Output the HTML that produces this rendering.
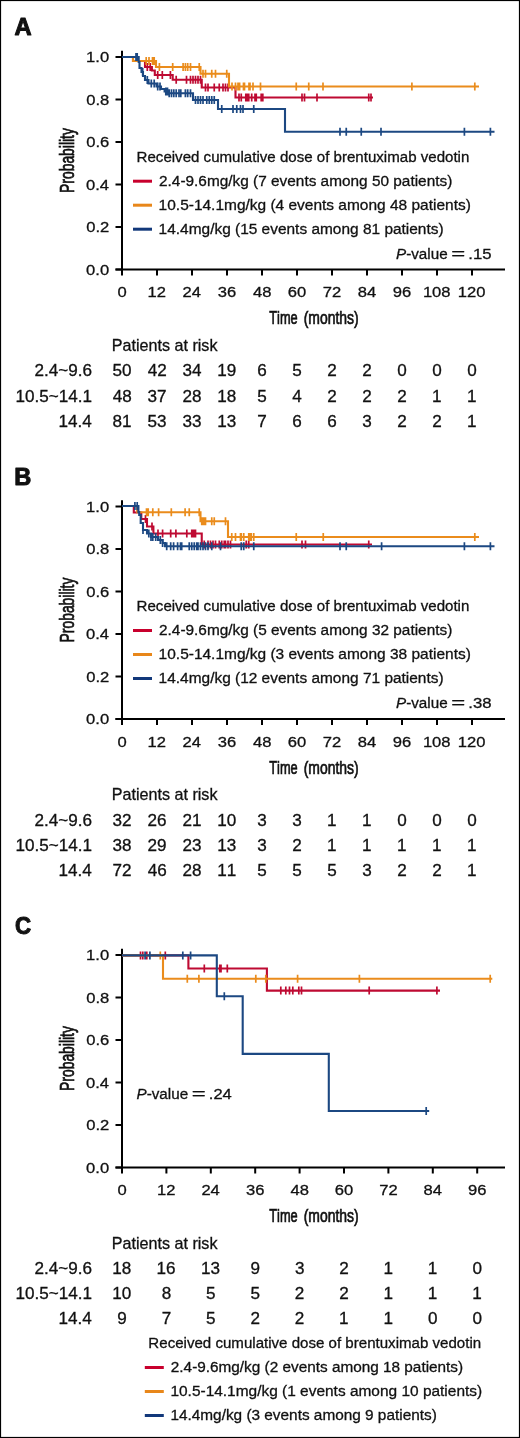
<!DOCTYPE html>
<html><head><meta charset="utf-8"><title>KM curves</title>
<style>html,body{margin:0;padding:0;background:#fff;overflow:hidden;}svg{display:block;}#w{will-change:transform;width:520px;height:1438px;background:#fff;}</style>
</head><body><div id="w">
<svg width="520" height="1438" viewBox="0 0 520 1438">
<style>
text{font-family:"Liberation Sans", sans-serif;fill:#111;}
.t{stroke:#111;stroke-width:0.3px;}
.c{stroke:#111;stroke-width:0.7px;}
.b{font-weight:bold;stroke:#111;stroke-width:1px;stroke-linejoin:round;}
text{font-kerning:none;}
</style>
<rect x="0" y="0" width="520" height="1438" fill="#fff"/>
<rect x="0.5" y="0.5" width="519" height="1437" fill="none" stroke="#000" stroke-width="1.2"/>
<text class="b" font-size="24" transform="translate(14.51 34.60) scale(0.9875 1)"><tspan font-weight="bold">A</tspan></text>
<text class="b" font-size="24" transform="translate(14.32 484.60) scale(0.9838 1)"><tspan font-weight="bold">B</tspan></text>
<text class="b" font-size="24" transform="translate(14.98 933.70) scale(0.9304 1)"><tspan font-weight="bold">C</tspan></text>
<path d="M122 50.8V270.5" stroke="#000" stroke-width="2" fill="none"/>
<path d="M115.5 269.5H505" stroke="#000" stroke-width="2" fill="none"/>
<path d="M115.5 57.0H122M115.5 99.5H122M115.5 142.0H122M115.5 184.5H122M115.5 227.0H122M115.5 269.5H122" stroke="#000" stroke-width="2" fill="none"/>
<path d="M122 269.5V275.5M157 269.5V275.5M192 269.5V275.5M227 269.5V275.5M262 269.5V275.5M297 269.5V275.5M332 269.5V275.5M367 269.5V275.5M402 269.5V275.5M437 269.5V275.5M472 269.5V275.5" stroke="#000" stroke-width="2" fill="none"/>
<text class="t" font-size="15.5" transform="translate(86.09 62.40) scale(1.0700 1)">1.0</text>
<text class="t" font-size="15.5" transform="translate(86.17 104.90) scale(1.0700 1)">0.8</text>
<text class="t" font-size="15.5" transform="translate(86.17 147.40) scale(1.0700 1)">0.6</text>
<text class="t" font-size="15.5" transform="translate(85.93 189.90) scale(1.0700 1)">0.4</text>
<text class="t" font-size="15.5" transform="translate(86.28 232.40) scale(1.0700 1)">0.2</text>
<text class="t" font-size="15.5" transform="translate(86.09 274.90) scale(1.0700 1)">0.0</text>
<text class="t" font-size="15.5" transform="translate(117.39 297.00) scale(1.0700 1)">0</text>
<text class="t" font-size="15.5" transform="translate(147.56 297.00) scale(1.0700 1)">12</text>
<text class="t" font-size="15.5" transform="translate(182.60 297.00) scale(1.0700 1)">24</text>
<text class="t" font-size="15.5" transform="translate(217.82 297.00) scale(1.0700 1)">36</text>
<text class="t" font-size="15.5" transform="translate(252.95 297.00) scale(1.0700 1)">48</text>
<text class="t" font-size="15.5" transform="translate(287.68 297.00) scale(1.0700 1)">60</text>
<text class="t" font-size="15.5" transform="translate(322.77 297.00) scale(1.0700 1)">72</text>
<text class="t" font-size="15.5" transform="translate(357.66 297.00) scale(1.0700 1)">84</text>
<text class="t" font-size="15.5" transform="translate(392.75 297.00) scale(1.0700 1)">96</text>
<text class="t" font-size="15.5" transform="translate(422.89 297.00) scale(1.0700 1)">108</text>
<text class="t" font-size="15.5" transform="translate(457.86 297.00) scale(1.0700 1)">120</text>
<text class="c" font-size="18" transform="translate(269.21 324.30) scale(0.7140 1)">Time</text>
<text class="c" font-size="18" transform="translate(303.64 324.30) scale(0.7749 1)">(months)</text>
<text class="c" font-size="20" transform="translate(73.6 192.94) rotate(-90) scale(0.6947 1)">Probability</text>
<path d="M122 500.3V720.0" stroke="#000" stroke-width="2" fill="none"/>
<path d="M115.5 719.0H505" stroke="#000" stroke-width="2" fill="none"/>
<path d="M115.5 506.5H122M115.5 549.0H122M115.5 591.5H122M115.5 634.0H122M115.5 676.5H122M115.5 719.0H122" stroke="#000" stroke-width="2" fill="none"/>
<path d="M122 719.0V725.0M157 719.0V725.0M192 719.0V725.0M227 719.0V725.0M262 719.0V725.0M297 719.0V725.0M332 719.0V725.0M367 719.0V725.0M402 719.0V725.0M437 719.0V725.0M472 719.0V725.0" stroke="#000" stroke-width="2" fill="none"/>
<text class="t" font-size="15.5" transform="translate(86.09 511.90) scale(1.0700 1)">1.0</text>
<text class="t" font-size="15.5" transform="translate(86.17 554.40) scale(1.0700 1)">0.8</text>
<text class="t" font-size="15.5" transform="translate(86.17 596.90) scale(1.0700 1)">0.6</text>
<text class="t" font-size="15.5" transform="translate(85.93 639.40) scale(1.0700 1)">0.4</text>
<text class="t" font-size="15.5" transform="translate(86.28 681.90) scale(1.0700 1)">0.2</text>
<text class="t" font-size="15.5" transform="translate(86.09 724.40) scale(1.0700 1)">0.0</text>
<text class="t" font-size="15.5" transform="translate(117.39 746.50) scale(1.0700 1)">0</text>
<text class="t" font-size="15.5" transform="translate(147.56 746.50) scale(1.0700 1)">12</text>
<text class="t" font-size="15.5" transform="translate(182.60 746.50) scale(1.0700 1)">24</text>
<text class="t" font-size="15.5" transform="translate(217.82 746.50) scale(1.0700 1)">36</text>
<text class="t" font-size="15.5" transform="translate(252.95 746.50) scale(1.0700 1)">48</text>
<text class="t" font-size="15.5" transform="translate(287.68 746.50) scale(1.0700 1)">60</text>
<text class="t" font-size="15.5" transform="translate(322.77 746.50) scale(1.0700 1)">72</text>
<text class="t" font-size="15.5" transform="translate(357.66 746.50) scale(1.0700 1)">84</text>
<text class="t" font-size="15.5" transform="translate(392.75 746.50) scale(1.0700 1)">96</text>
<text class="t" font-size="15.5" transform="translate(422.89 746.50) scale(1.0700 1)">108</text>
<text class="t" font-size="15.5" transform="translate(457.86 746.50) scale(1.0700 1)">120</text>
<text class="c" font-size="18" transform="translate(269.21 773.80) scale(0.7140 1)">Time</text>
<text class="c" font-size="18" transform="translate(303.64 773.80) scale(0.7749 1)">(months)</text>
<text class="c" font-size="20" transform="translate(73.6 642.44) rotate(-90) scale(0.6947 1)">Probability</text>
<path d="M122 948.8V1168.5" stroke="#000" stroke-width="2" fill="none"/>
<path d="M115.5 1167.5H505" stroke="#000" stroke-width="2" fill="none"/>
<path d="M115.5 955.0H122M115.5 997.5H122M115.5 1040.0H122M115.5 1082.5H122M115.5 1125.0H122M115.5 1167.5H122" stroke="#000" stroke-width="2" fill="none"/>
<path d="M122.0 1167.5V1173.5M166.4 1167.5V1173.5M210.8 1167.5V1173.5M255.2 1167.5V1173.5M299.6 1167.5V1173.5M344.0 1167.5V1173.5M388.4 1167.5V1173.5M432.8 1167.5V1173.5M477.2 1167.5V1173.5" stroke="#000" stroke-width="2" fill="none"/>
<text class="t" font-size="15.5" transform="translate(86.09 960.40) scale(1.0700 1)">1.0</text>
<text class="t" font-size="15.5" transform="translate(86.17 1002.90) scale(1.0700 1)">0.8</text>
<text class="t" font-size="15.5" transform="translate(86.17 1045.40) scale(1.0700 1)">0.6</text>
<text class="t" font-size="15.5" transform="translate(85.93 1087.90) scale(1.0700 1)">0.4</text>
<text class="t" font-size="15.5" transform="translate(86.28 1130.40) scale(1.0700 1)">0.2</text>
<text class="t" font-size="15.5" transform="translate(86.09 1172.90) scale(1.0700 1)">0.0</text>
<text class="t" font-size="15.5" transform="translate(117.39 1195.00) scale(1.0700 1)">0</text>
<text class="t" font-size="15.5" transform="translate(156.96 1195.00) scale(1.0700 1)">12</text>
<text class="t" font-size="15.5" transform="translate(201.40 1195.00) scale(1.0700 1)">24</text>
<text class="t" font-size="15.5" transform="translate(246.02 1195.00) scale(1.0700 1)">36</text>
<text class="t" font-size="15.5" transform="translate(290.55 1195.00) scale(1.0700 1)">48</text>
<text class="t" font-size="15.5" transform="translate(334.68 1195.00) scale(1.0700 1)">60</text>
<text class="t" font-size="15.5" transform="translate(379.17 1195.00) scale(1.0700 1)">72</text>
<text class="t" font-size="15.5" transform="translate(423.46 1195.00) scale(1.0700 1)">84</text>
<text class="t" font-size="15.5" transform="translate(467.95 1195.00) scale(1.0700 1)">96</text>
<text class="c" font-size="18" transform="translate(269.21 1222.30) scale(0.7140 1)">Time</text>
<text class="c" font-size="18" transform="translate(303.64 1222.30) scale(0.7749 1)">(months)</text>
<text class="c" font-size="20" transform="translate(73.6 1090.94) rotate(-90) scale(0.6947 1)">Probability</text>
<path d="M122 57H133V61H145V67H151.9V70.5H154.8V75H172.7V79.7H201.75V87.5H235.5V97.5H373" fill="none" stroke="#BE0A32" stroke-width="2.1" stroke-linejoin="miter" stroke-linecap="butt"/>
<path d="M147.3 63V71M150.2 63V71M157.7 71V79M162.3 71V79M170.4 71V79M176.2 75.7V83.7M186.5 75.7V83.7M190.5 75.7V83.7M193 75.7V83.7M195.5 75.7V83.7M198 75.7V83.7M200.5 75.7V83.7M205.5 83.5V91.5M208 83.5V91.5M214.25 83.5V91.5M219.25 83.5V91.5M223 83.5V91.5M225.5 83.5V91.5M228 83.5V91.5M239 93.5V101.5M241.25 93.5V101.5M245.8 93.5V101.5M247.1 93.5V101.5M248.75 93.5V101.5M251.7 93.5V101.5M255 93.5V101.5M256.25 93.5V101.5M261.2 93.5V101.5M262.8 93.5V101.5M302 93.5V101.5M304.5 93.5V101.5M317 93.5V101.5M368.75 93.5V101.5M371 93.5V101.5" stroke="#BE0A32" stroke-width="1.7" fill="none"/>
<path d="M122 57H133V61H156V67H200.5V73.75H229V86.5H479" fill="none" stroke="#EA8C1C" stroke-width="2.1" stroke-linejoin="miter" stroke-linecap="butt"/>
<path d="M146.2 57V65M149 57V65M152.5 57V65M154.2 57V65M159.4 63V71M172.7 63V71M183.1 63V71M185.4 63V71M187.7 63V71M190.5 63V71M199.25 63V71M203 69.75V77.75M205.5 69.75V77.75M211.75 69.75V77.75M215.5 69.75V77.75M226.75 69.75V77.75M232 82.5V90.5M235.5 82.5V90.5M238 82.5V90.5M239.6 82.5V90.5M243.5 82.5V90.5M244.5 82.5V90.5M249 82.5V90.5M250 82.5V90.5M253 82.5V90.5M260.5 82.5V90.5M296.25 82.5V90.5M308.75 82.5V90.5M323 82.5V90.5M411.9 82.5V90.5M474.8 82.5V90.5" stroke="#EA8C1C" stroke-width="1.7" fill="none"/>
<path d="M122 57H138.7V62H139.5V68H141.5V72H143V76H145V80H148.5V83.5H156.5V86.5H161V89H164.6V91.5H168V93.3H193V100H218V109H285V131.75H494.5" fill="none" stroke="#1C4882" stroke-width="2.1" stroke-linejoin="miter" stroke-linecap="butt"/>
<path d="M136 53V61M137.2 53V61M142.7 68V76M147.3 76V84M151.3 79.5V87.5M154.2 79.5V87.5M157.7 82.5V90.5M160 82.5V90.5M165.8 87.5V95.5M167.5 87.5V95.5M169.2 89.3V97.3M171.5 89.3V97.3M173.8 89.3V97.3M176.2 89.3V97.3M179 89.3V97.3M180.8 89.3V97.3M185.4 89.3V97.3M187.7 89.3V97.3M190.5 89.3V97.3M195.5 96V104M198 96V104M200.5 96V104M203 96V104M206.75 96V104M209.25 96V104M211.75 96V104M214.25 96V104M221.75 105V113M233 105V113M236.75 105V113M240.5 105V113M243 105V113M253.75 105V113M340 127.75V135.75M346.25 127.75V135.75M361.25 127.75V135.75M381 127.75V135.75M464.4 127.75V135.75M490.4 127.75V135.75" stroke="#1C4882" stroke-width="1.7" fill="none"/>
<path d="M122 506H133.8V512.5H141.3V519H147V526.5H153.4V533.5H201.75V544.5H372" fill="none" stroke="#BE0A32" stroke-width="2.1" stroke-linejoin="miter" stroke-linecap="butt"/>
<path d="M145.5 515V523M152 522.5V530.5M158 529.5V537.5M162.6 529.5V537.5M170.7 529.5V537.5M175.9 529.5V537.5M186.8 529.5V537.5M191.75 529.5V537.5M193 529.5V537.5M194.25 529.5V537.5M195.5 529.5V537.5M204.25 540.5V548.5M208 540.5V548.5M210.5 540.5V548.5M213 540.5V548.5M215.5 540.5V548.5M219.25 540.5V548.5M221.75 540.5V548.5M224.25 540.5V548.5M225.5 540.5V548.5M228 540.5V548.5M230.5 540.5V548.5M246.25 540.5V548.5M248.75 540.5V548.5M302 540.5V548.5M305.5 540.5V548.5M368.75 540.5V548.5" stroke="#BE0A32" stroke-width="1.7" fill="none"/>
<path d="M122 506H137.2V512.3H200.5V521.25H228V537H479" fill="none" stroke="#EA8C1C" stroke-width="2.1" stroke-linejoin="miter" stroke-linecap="butt"/>
<path d="M146.5 508.29999999999995V516.3M148.2 508.29999999999995V516.3M152.8 508.29999999999995V516.3M158.6 508.29999999999995V516.3M171.3 508.29999999999995V516.3M185.1 508.29999999999995V516.3M189.25 508.29999999999995V516.3M199.25 508.29999999999995V516.3M201.75 517.25V525.25M203 517.25V525.25M204.25 517.25V525.25M205.5 517.25V525.25M211.75 517.25V525.25M214.25 517.25V525.25M225.5 517.25V525.25M231.75 533V541M235.5 533V541M240.5 533V541M241.25 533V541M243.75 533V541M248.75 533V541M250 533V541M251.25 533V541M253.75 533V541M296.25 533V541M323.25 533V541M474.8 533V541" stroke="#EA8C1C" stroke-width="1.7" fill="none"/>
<path d="M122 506H138.4V512H139.2V515H140.7V523H143V530H147V533.5H151V537H158V540H162.6V543H165V546.3H494.5" fill="none" stroke="#1C4882" stroke-width="2.1" stroke-linejoin="miter" stroke-linecap="butt"/>
<path d="M134.9 502V510M137.2 502V510M143 526V534M148.8 529.5V537.5M151 533V541M152.8 533V541M155.7 533V541M160.3 536V544M162.6 539V547M166.7 542.3V550.3M170.7 542.3V550.3M173.6 542.3V550.3M177.6 542.3V550.3M180.5 542.3V550.3M181.7 542.3V550.3M189.25 542.3V550.3M191.75 542.3V550.3M194.25 542.3V550.3M196.75 542.3V550.3M198 542.3V550.3M200.5 542.3V550.3M203 542.3V550.3M205.5 542.3V550.3M208 542.3V550.3M211.75 542.3V550.3M220.5 542.3V550.3M241.25 542.3V550.3M243.75 542.3V550.3M253.75 542.3V550.3M340 542.3V550.3M346.25 542.3V550.3M381.6 542.3V550.3M464.4 542.3V550.3M490.4 542.3V550.3" stroke="#1C4882" stroke-width="1.7" fill="none"/>
<path d="M122 955.4H188.4V968.5H266.9V990.6H440" fill="none" stroke="#BE0A32" stroke-width="2.1" stroke-linejoin="miter" stroke-linecap="butt"/>
<path d="M140.5 951.4V959.4M142.8 951.4V959.4M146.8 951.4V959.4M165.3 951.4V959.4M204.3 964.5V972.5M219.8 964.5V972.5M221 964.5V972.5M227.3 964.5V972.5M280.8 986.6V994.6M285.8 986.6V994.6M289.5 986.6V994.6M292.8 986.6V994.6M298.8 986.6V994.6M301.5 986.6V994.6M369.2 986.6V994.6M436.9 986.6V994.6" stroke="#BE0A32" stroke-width="1.7" fill="none"/>
<path d="M122 955.4H163V978.7H492.3" fill="none" stroke="#EA8C1C" stroke-width="2.1" stroke-linejoin="miter" stroke-linecap="butt"/>
<path d="M160.3 951.4V959.4M187.3 974.7V982.7M198.9 974.7V982.7M255.8 974.7V982.7M265.8 974.7V982.7M297.6 974.7V982.7M359.4 974.7V982.7M490.2 974.7V982.7" stroke="#EA8C1C" stroke-width="1.7" fill="none"/>
<path d="M122 955.4H216.8V996.2H242.7V1053.9H328.8V1111H429.2" fill="none" stroke="#1C4882" stroke-width="2.1" stroke-linejoin="miter" stroke-linecap="butt"/>
<path d="M145.1 951.4V959.4M149.9 951.4V959.4M182.8 951.4V959.4M190.6 951.4V959.4M224.3 992.2V1000.2M426.2 1107V1115" stroke="#1C4882" stroke-width="1.7" fill="none"/>
<text class="t" font-size="16" transform="translate(111.78 351.20) scale(1.0083 1)">Patients at risk</text>
<text class="t" font-size="16" transform="translate(34.46 376.30) scale(1.0700 1)">2.4~9.6</text>
<text class="t" font-size="16" transform="translate(112.47 376.30) scale(1.0700 1)">50</text>
<text class="t" font-size="16" transform="translate(147.71 376.30) scale(1.0700 1)">42</text>
<text class="t" font-size="16" transform="translate(182.40 376.30) scale(1.0700 1)">34</text>
<text class="t" font-size="16" transform="translate(217.23 376.30) scale(1.0700 1)">19</text>
<text class="t" font-size="16" transform="translate(257.18 376.30) scale(1.0700 1)">6</text>
<text class="t" font-size="16" transform="translate(292.26 376.30) scale(1.0700 1)">5</text>
<text class="t" font-size="16" transform="translate(327.24 376.30) scale(1.0700 1)">2</text>
<text class="t" font-size="16" transform="translate(362.24 376.30) scale(1.0700 1)">2</text>
<text class="t" font-size="16" transform="translate(397.24 376.30) scale(1.0700 1)">0</text>
<text class="t" font-size="16" transform="translate(432.24 376.30) scale(1.0700 1)">0</text>
<text class="t" font-size="16" transform="translate(467.24 376.30) scale(1.0700 1)">0</text>
<text class="t" font-size="16" transform="translate(15.50 401.50) scale(1.0700 1)">10.5~14.1</text>
<text class="t" font-size="16" transform="translate(112.65 401.50) scale(1.0700 1)">48</text>
<text class="t" font-size="16" transform="translate(147.58 401.50) scale(1.0700 1)">37</text>
<text class="t" font-size="16" transform="translate(182.42 401.50) scale(1.0700 1)">28</text>
<text class="t" font-size="16" transform="translate(217.20 401.50) scale(1.0700 1)">18</text>
<text class="t" font-size="16" transform="translate(257.26 401.50) scale(1.0700 1)">5</text>
<text class="t" font-size="16" transform="translate(292.29 401.50) scale(1.0700 1)">4</text>
<text class="t" font-size="16" transform="translate(327.24 401.50) scale(1.0700 1)">2</text>
<text class="t" font-size="16" transform="translate(362.24 401.50) scale(1.0700 1)">2</text>
<text class="t" font-size="16" transform="translate(397.24 401.50) scale(1.0700 1)">2</text>
<text class="t" font-size="16" transform="translate(432.01 401.50) scale(1.0700 1)">1</text>
<text class="t" font-size="16" transform="translate(467.01 401.50) scale(1.0700 1)">1</text>
<text class="t" font-size="16" transform="translate(58.48 426.50) scale(1.0700 1)">14.4</text>
<text class="t" font-size="16" transform="translate(112.52 426.50) scale(1.0700 1)">81</text>
<text class="t" font-size="16" transform="translate(147.51 426.50) scale(1.0700 1)">53</text>
<text class="t" font-size="16" transform="translate(182.53 426.50) scale(1.0700 1)">33</text>
<text class="t" font-size="16" transform="translate(217.20 426.50) scale(1.0700 1)">13</text>
<text class="t" font-size="16" transform="translate(257.23 426.50) scale(1.0700 1)">7</text>
<text class="t" font-size="16" transform="translate(292.18 426.50) scale(1.0700 1)">6</text>
<text class="t" font-size="16" transform="translate(327.18 426.50) scale(1.0700 1)">6</text>
<text class="t" font-size="16" transform="translate(362.29 426.50) scale(1.0700 1)">3</text>
<text class="t" font-size="16" transform="translate(397.24 426.50) scale(1.0700 1)">2</text>
<text class="t" font-size="16" transform="translate(432.24 426.50) scale(1.0700 1)">2</text>
<text class="t" font-size="16" transform="translate(467.01 426.50) scale(1.0700 1)">1</text>
<text class="t" font-size="16" transform="translate(111.78 800.40) scale(1.0083 1)">Patients at risk</text>
<text class="t" font-size="16" transform="translate(34.46 825.50) scale(1.0700 1)">2.4~9.6</text>
<text class="t" font-size="16" transform="translate(112.58 825.50) scale(1.0700 1)">32</text>
<text class="t" font-size="16" transform="translate(147.42 825.50) scale(1.0700 1)">26</text>
<text class="t" font-size="16" transform="translate(182.47 825.50) scale(1.0700 1)">21</text>
<text class="t" font-size="16" transform="translate(217.16 825.50) scale(1.0700 1)">10</text>
<text class="t" font-size="16" transform="translate(257.29 825.50) scale(1.0700 1)">3</text>
<text class="t" font-size="16" transform="translate(292.29 825.50) scale(1.0700 1)">3</text>
<text class="t" font-size="16" transform="translate(327.01 825.50) scale(1.0700 1)">1</text>
<text class="t" font-size="16" transform="translate(362.01 825.50) scale(1.0700 1)">1</text>
<text class="t" font-size="16" transform="translate(397.24 825.50) scale(1.0700 1)">0</text>
<text class="t" font-size="16" transform="translate(432.24 825.50) scale(1.0700 1)">0</text>
<text class="t" font-size="16" transform="translate(467.24 825.50) scale(1.0700 1)">0</text>
<text class="t" font-size="16" transform="translate(15.50 850.70) scale(1.0700 1)">10.5~14.1</text>
<text class="t" font-size="16" transform="translate(112.52 850.70) scale(1.0700 1)">38</text>
<text class="t" font-size="16" transform="translate(147.45 850.70) scale(1.0700 1)">29</text>
<text class="t" font-size="16" transform="translate(182.42 850.70) scale(1.0700 1)">23</text>
<text class="t" font-size="16" transform="translate(217.20 850.70) scale(1.0700 1)">13</text>
<text class="t" font-size="16" transform="translate(257.29 850.70) scale(1.0700 1)">3</text>
<text class="t" font-size="16" transform="translate(292.24 850.70) scale(1.0700 1)">2</text>
<text class="t" font-size="16" transform="translate(327.01 850.70) scale(1.0700 1)">1</text>
<text class="t" font-size="16" transform="translate(362.01 850.70) scale(1.0700 1)">1</text>
<text class="t" font-size="16" transform="translate(397.01 850.70) scale(1.0700 1)">1</text>
<text class="t" font-size="16" transform="translate(432.01 850.70) scale(1.0700 1)">1</text>
<text class="t" font-size="16" transform="translate(467.01 850.70) scale(1.0700 1)">1</text>
<text class="t" font-size="16" transform="translate(58.48 875.70) scale(1.0700 1)">14.4</text>
<text class="t" font-size="16" transform="translate(112.47 875.70) scale(1.0700 1)">72</text>
<text class="t" font-size="16" transform="translate(147.66 875.70) scale(1.0700 1)">46</text>
<text class="t" font-size="16" transform="translate(182.42 875.70) scale(1.0700 1)">28</text>
<text class="t" font-size="16" transform="translate(217.24 875.70) scale(1.0700 1)">11</text>
<text class="t" font-size="16" transform="translate(257.26 875.70) scale(1.0700 1)">5</text>
<text class="t" font-size="16" transform="translate(292.26 875.70) scale(1.0700 1)">5</text>
<text class="t" font-size="16" transform="translate(327.26 875.70) scale(1.0700 1)">5</text>
<text class="t" font-size="16" transform="translate(362.29 875.70) scale(1.0700 1)">3</text>
<text class="t" font-size="16" transform="translate(397.24 875.70) scale(1.0700 1)">2</text>
<text class="t" font-size="16" transform="translate(432.24 875.70) scale(1.0700 1)">2</text>
<text class="t" font-size="16" transform="translate(467.01 875.70) scale(1.0700 1)">1</text>
<text class="t" font-size="16" transform="translate(111.78 1248.50) scale(1.0083 1)">Patients at risk</text>
<text class="t" font-size="16" transform="translate(34.46 1273.60) scale(1.0700 1)">2.4~9.6</text>
<text class="t" font-size="16" transform="translate(112.20 1273.60) scale(1.0700 1)">18</text>
<text class="t" font-size="16" transform="translate(156.60 1273.60) scale(1.0700 1)">16</text>
<text class="t" font-size="16" transform="translate(201.00 1273.60) scale(1.0700 1)">13</text>
<text class="t" font-size="16" transform="translate(250.44 1273.60) scale(1.0700 1)">9</text>
<text class="t" font-size="16" transform="translate(294.89 1273.60) scale(1.0700 1)">3</text>
<text class="t" font-size="16" transform="translate(339.24 1273.60) scale(1.0700 1)">2</text>
<text class="t" font-size="16" transform="translate(383.41 1273.60) scale(1.0700 1)">1</text>
<text class="t" font-size="16" transform="translate(427.81 1273.60) scale(1.0700 1)">1</text>
<text class="t" font-size="16" transform="translate(472.44 1273.60) scale(1.0700 1)">0</text>
<text class="t" font-size="16" transform="translate(15.50 1298.80) scale(1.0700 1)">10.5~14.1</text>
<text class="t" font-size="16" transform="translate(112.16 1298.80) scale(1.0700 1)">10</text>
<text class="t" font-size="16" transform="translate(161.64 1298.80) scale(1.0700 1)">8</text>
<text class="t" font-size="16" transform="translate(206.06 1298.80) scale(1.0700 1)">5</text>
<text class="t" font-size="16" transform="translate(250.46 1298.80) scale(1.0700 1)">5</text>
<text class="t" font-size="16" transform="translate(294.84 1298.80) scale(1.0700 1)">2</text>
<text class="t" font-size="16" transform="translate(339.24 1298.80) scale(1.0700 1)">2</text>
<text class="t" font-size="16" transform="translate(383.41 1298.80) scale(1.0700 1)">1</text>
<text class="t" font-size="16" transform="translate(427.81 1298.80) scale(1.0700 1)">1</text>
<text class="t" font-size="16" transform="translate(472.21 1298.80) scale(1.0700 1)">1</text>
<text class="t" font-size="16" transform="translate(58.48 1323.80) scale(1.0700 1)">14.4</text>
<text class="t" font-size="16" transform="translate(117.24 1323.80) scale(1.0700 1)">9</text>
<text class="t" font-size="16" transform="translate(161.63 1323.80) scale(1.0700 1)">7</text>
<text class="t" font-size="16" transform="translate(206.06 1323.80) scale(1.0700 1)">5</text>
<text class="t" font-size="16" transform="translate(250.44 1323.80) scale(1.0700 1)">2</text>
<text class="t" font-size="16" transform="translate(294.84 1323.80) scale(1.0700 1)">2</text>
<text class="t" font-size="16" transform="translate(339.01 1323.80) scale(1.0700 1)">1</text>
<text class="t" font-size="16" transform="translate(383.41 1323.80) scale(1.0700 1)">1</text>
<text class="t" font-size="16" transform="translate(428.04 1323.80) scale(1.0700 1)">0</text>
<text class="t" font-size="16" transform="translate(472.44 1323.80) scale(1.0700 1)">0</text>
<text class="t" font-size="15" transform="translate(136.56 161.50) scale(1.0066 1)">Received cumulative dose of brentuximab vedotin</text>
<path d="M133.0 181.2H152.0" stroke="#C8002D" stroke-width="3"/>
<text class="t" font-size="15" transform="translate(159.03 185.50) scale(1.0260 1)">2.4-9.6mg/kg (7 events among 50 patients)</text>
<path d="M133.0 205.2H152.0" stroke="#E8871A" stroke-width="3"/>
<text class="t" font-size="15" transform="translate(158.62 209.50) scale(1.0319 1)">10.5-14.1mg/kg (4 events among 48 patients)</text>
<path d="M133.0 229.2H152.0" stroke="#12387A" stroke-width="3"/>
<text class="t" font-size="15" transform="translate(158.62 233.50) scale(1.0300 1)">14.4mg/kg (15 events among 81 patients)</text>
<text class="t" font-size="15" transform="translate(136.56 610.80) scale(1.0066 1)">Received cumulative dose of brentuximab vedotin</text>
<path d="M133.0 630.5H152.0" stroke="#C8002D" stroke-width="3"/>
<text class="t" font-size="15" transform="translate(159.03 634.80) scale(1.0260 1)">2.4-9.6mg/kg (5 events among 32 patients)</text>
<path d="M133.0 654.5H152.0" stroke="#E8871A" stroke-width="3"/>
<text class="t" font-size="15" transform="translate(158.62 658.80) scale(1.0319 1)">10.5-14.1mg/kg (3 events among 38 patients)</text>
<path d="M133.0 678.5H152.0" stroke="#12387A" stroke-width="3"/>
<text class="t" font-size="15" transform="translate(158.62 682.80) scale(1.0300 1)">14.4mg/kg (12 events among 71 patients)</text>
<text class="t" font-size="15" transform="translate(148.36 1347.80) scale(1.0066 1)">Received cumulative dose of brentuximab vedotin</text>
<path d="M144.79999999999998 1367.5H163.79999999999998" stroke="#C8002D" stroke-width="3"/>
<text class="t" font-size="15" transform="translate(170.83 1371.80) scale(1.0235 1)">2.4-9.6mg/kg (2 events among 18 patients)</text>
<path d="M144.79999999999998 1391.5H163.79999999999998" stroke="#E8871A" stroke-width="3"/>
<text class="t" font-size="15" transform="translate(170.42 1395.80) scale(1.0309 1)">10.5-14.1mg/kg (1 events among 10 patients)</text>
<path d="M144.79999999999998 1415.5H163.79999999999998" stroke="#12387A" stroke-width="3"/>
<text class="t" font-size="15" transform="translate(170.43 1419.80) scale(1.0249 1)">14.4mg/kg (3 events among 9 patients)</text>
<text class="t" font-size="15" transform="translate(396.03 258.80) scale(1.0155 1)"><tspan font-style="italic">P</tspan>-value</text>
<text class="t" font-size="15" transform="translate(451.33 258.80) scale(1.5917 1)">=</text>
<text class="t" font-size="15" transform="translate(468.27 258.80) scale(1.1139 1)">.15</text>
<text class="t" font-size="15" transform="translate(396.03 708.10) scale(1.0155 1)"><tspan font-style="italic">P</tspan>-value</text>
<text class="t" font-size="15" transform="translate(451.33 708.10) scale(1.5917 1)">=</text>
<text class="t" font-size="15" transform="translate(468.27 708.10) scale(1.1152 1)">.38</text>
<text class="t" font-size="15" transform="translate(136.53 1099.20) scale(1.0155 1)"><tspan font-style="italic">P</tspan>-value</text>
<text class="t" font-size="15" transform="translate(191.83 1099.20) scale(1.5917 1)">=</text>
<text class="t" font-size="15" transform="translate(208.79 1099.20) scale(1.1028 1)">.24</text>
</svg>
</div></body></html>
